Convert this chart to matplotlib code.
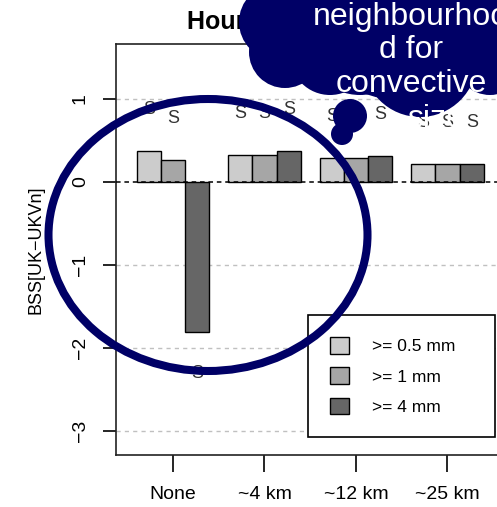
import matplotlib.pyplot as plt
import matplotlib.patches as mpatches
import numpy as np

plt.rcParams['font.family'] = ['Liberation Sans', 'DejaVu Sans']

# datos
categorias = ['None', '~4 km', '~12 km', '~25 km']
umbrales = ['>= 0.5 mm', '>= 1 mm', '>= 4 mm']
bss_05mm = [0.37, 0.32, 0.29, 0.21]
bss_1mm = [0.26, 0.32, 0.28, 0.21]
bss_4mm = [-1.81, 0.37, 0.31, 0.21]
signif = [['S', 'S', 'S', 'S'], ['S', 'S', 'S', 'S'], ['S', 'S', 'S', 'S']]
y_ticks = [1, 0, -1, -2, -3]

colores = ['#cccccc', '#a6a6a6', '#666666']
navy = '#000066'

fig = plt.figure(figsize=(4.97, 5.07), dpi=100)
W, H = 497, 507

# ejes principales (el lado derecho queda fuera del recorte)
ax = fig.add_axes([116 / W, (H - 455) / H, (515 - 116) / W, (455 - 44) / H])
x = np.arange(len(categorias))
ancho = 0.265
series = [bss_05mm, bss_1mm, bss_4mm]
for i, vals in enumerate(series):
    pos = x + (i - 1) * ancho
    ax.bar(pos, vals, width=ancho, color=colores[i], edgecolor='black',
           linewidth=1.0, label=umbrales[i], zorder=2)
    for p, v, s in zip(pos, vals, signif[i]):
        ax.text(p, v + 0.5 * np.sign(v), s, ha='center', va='center',
                fontsize=13, color='#333333', zorder=4)

for yv in y_ticks:
    if yv == 0:
        ax.axhline(0, color='black', linestyle=(0, (3, 2.5)), linewidth=1.1, zorder=3)
    else:
        ax.axhline(yv, color='#c0c0c0', linestyle=(0, (3, 3)), linewidth=1.0, zorder=0)

ax.set_xlim(-0.623, 3.738)
ax.set_ylim(-3.293, 1.659)
ax.set_xticks(x)
ax.set_xticklabels(categorias, fontsize=14)
ax.set_yticks(y_ticks)
ax.set_yticklabels([str(t).replace('-', '\u2212') for t in y_ticks], fontsize=14)
for lab in ax.get_yticklabels():
    lab.set_rotation(90)
    lab.set_va('center')
ax.tick_params(axis='x', length=12, width=1.2, pad=10)
ax.tick_params(axis='y', length=9.5, width=1.2, pad=10)
for sp in ax.spines.values():
    sp.set_linewidth(1.2)
    sp.set_color('#222222')

ax.set_ylabel('BSS[UK\u2212UKVn]', fontsize=13)
ax.yaxis.set_label_coords((44 - 116) / 399, 0.5)

leg = ax.legend(loc='lower left', mode='expand',
                bbox_to_anchor=(308 / W, 70 / H, 187 / W, 122 / H),
                bbox_transform=fig.transFigure, borderaxespad=0,
                fontsize=12.5, handlelength=1.1, handleheight=1.1,
                handletextpad=1.3, labelspacing=0.75, borderpad=1.28,
                fancybox=False, framealpha=1, edgecolor='black')
leg.get_frame().set_linewidth(1.2)
leg.set_zorder(5)

# capa de anotaciones: nube y elipse, en pixeles de la figura
ov = fig.add_axes([0, 0, 1, 1])
ov.set_xlim(0, W)
ov.set_ylim(H, 0)
ov.axis('off')
ov.patch.set_alpha(0)

# titulo (tapado en parte por la nube)
ov.text(187, 22, 'Hourly precipitation', fontsize=18, fontweight='bold',
        ha='left', va='center', zorder=1)

circulos = [(277, 22, 38), (285, 52, 36), (330, 55, 40), (360, 40, 55),
            (420, 60, 57), (470, 40, 45), (490, 60, 35), (400, 0, 100),
            (350, 116, 17), (342, 134, 11)]
for cx, cy, r in circulos:
    ov.add_patch(mpatches.Circle((cx, cy), r, facecolor=navy,
                                 edgecolor='none', zorder=2))

ov.add_patch(mpatches.Ellipse((208, 235), 319, 272, facecolor='none',
                              edgecolor=navy, linewidth=5.8, zorder=3))

lineas = ['neighbourhoo', 'd for', 'convective', 'size']
xs = [411, 411, 411, 436]
bases = [25, 58, 92, 127]
for txt, xc, yb in zip(lineas, xs, bases):
    ov.text(xc, yb, txt, color='white', fontsize=23, ha='center',
            va='baseline', zorder=4)

plt.savefig('out.png', dpi=100)
